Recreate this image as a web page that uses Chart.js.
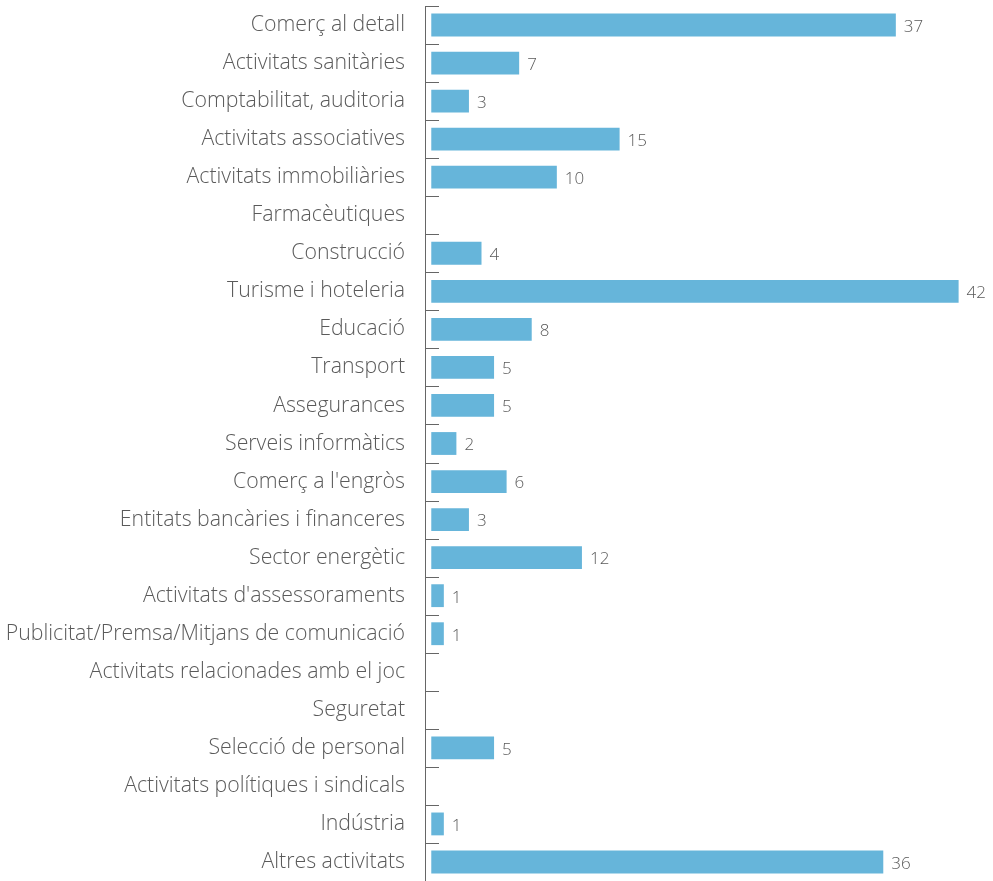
<!DOCTYPE html>
<html>
<head>
<meta charset="utf-8">
<script src="https://cdn.jsdelivr.net/npm/chart.js@4"></script>
<style>
  html, body { margin: 0; padding: 0; background: #fff; }
  #wrap { width: 993px; height: 881px; }
</style>
</head>
<body>
<div id="wrap"><canvas id="chart"></canvas></div>
<script>
const categories = [
    'Comerç al detall',
    'Activitats sanitàries',
    'Comptabilitat, auditoria',
    'Activitats associatives',
    'Activitats immobiliàries',
    'Farmacèutiques',
    'Construcció',
    'Turisme i hoteleria',
    'Educació',
    'Transport',
    'Assegurances',
    'Serveis informàtics',
    "Comerç a l'engròs",
    'Entitats bancàries i financeres',
    'Sector energètic',
    "Activitats d'assessoraments",
    'Publicitat/Premsa/Mitjans de comunicació',
    'Activitats relacionades amb el joc',
    'Seguretat',
    'Selecció de personal',
    'Activitats polítiques i sindicals',
    'Indústria',
    'Altres activitats'
];

const values = [37, 7, 3, 15, 10, 0, 4, 42, 8, 5, 5, 2, 6, 3, 12, 1, 1, 0, 0, 5, 0, 1, 36];

const FONT = '"Open Sans", Roboto, sans-serif';
const TEXT_COLOR = '#5a5a5a';
const BAR_COLOR = '#66b5da';

// value labels at the end of each bar
const valueLabels = {
    id: 'valueLabels',
    afterDatasetsDraw(chart) {
        const ctx = chart.ctx;
        const meta = chart.getDatasetMeta(0);
        ctx.save();
        ctx.font = '300 17px ' + FONT;
        ctx.fillStyle = TEXT_COLOR;
        ctx.textAlign = 'left';
        ctx.textBaseline = 'middle';
        meta.data.forEach((bar, i) => {
            const v = values[i];
            if (!v) return;
            ctx.fillText(String(v), bar.x + 8, bar.y + 2);
        });
        ctx.restore();
    }
};

// short tick marks at category boundaries, pointing right from the axis
const boundaryTicks = {
    id: 'boundaryTicks',
    afterDraw(chart) {
        const ctx = chart.ctx;
        const area = chart.chartArea;
        const n = categories.length;
        const step = (area.bottom - area.top) / n;
        ctx.save();
        ctx.strokeStyle = '#666';
        ctx.lineWidth = 1;
        ctx.beginPath();
        for (let i = 0; i <= n; i++) {
            const y = Math.round(area.top + i * step) + 0.5;
            ctx.moveTo(area.left, y);
            ctx.lineTo(area.left + 14, y);
        }
        ctx.stroke();
        ctx.restore();
    }
};

new Chart(document.getElementById('chart'), {
    type: 'bar',
    data: {
        labels: categories,
        datasets: [{
            data: values,
            backgroundColor: BAR_COLOR,
            borderWidth: 0,
            barPercentage: 0.6,
            categoryPercentage: 1
        }]
    },
    options: {
        indexAxis: 'y',
        responsive: true,
        maintainAspectRatio: false,
        animation: false,
        layout: {
            padding: { top: 6, bottom: -3, right: 3 }
        },
        plugins: {
            legend: { display: false },
            tooltip: { enabled: false }
        },
        scales: {
            x: {
                display: false,
                min: -0.5,
                max: 44.5
            },
            y: {
                afterFit(scale) {
                    scale.width = 425;
                    scale.paddingTop = 0;
                    scale.paddingBottom = 0;
                },
                grid: {
                    display: true,
                    drawOnChartArea: false,
                    drawTicks: false
                },
                border: {
                    display: true,
                    color: '#666',
                    width: 1
                },
                ticks: {
                    color: TEXT_COLOR,
                    padding: 20,
                    font: { family: FONT, size: 21.3, weight: 300 }
                }
            }
        }
    },
    plugins: [valueLabels, boundaryTicks]
});
</script>
</body>
</html>
